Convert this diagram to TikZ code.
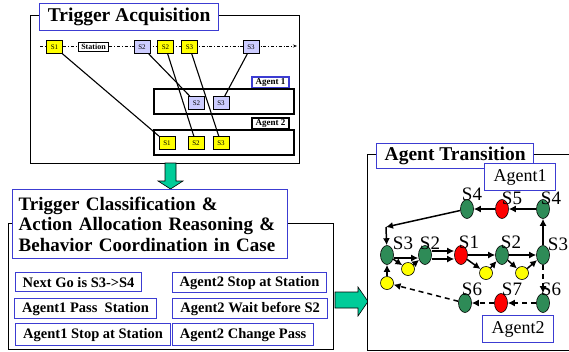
\documentclass[tikz,border=0pt]{standalone}
\usepackage{fontspec}
\setmainfont{Liberation Serif}
\usetikzlibrary{arrows.meta,shapes.geometric}

\definecolor{frameblue}{RGB}{60,60,210}
\definecolor{lav}{RGB}{204,204,255}
\definecolor{ylw}{RGB}{255,255,0}
\definecolor{stgreen}{RGB}{46,139,87}
\definecolor{arrgreen}{RGB}{0,204,153}

\tikzset{
  panel/.style={draw=black, line width=1.1pt, fill=white},
  bigtitle/.style={draw=frameblue, line width=1.4pt, fill=white, inner sep=0pt,
    font=\bfseries\fontsize{19.5}{20.5}\selectfont},
  casebox/.style={draw=frameblue, line width=1.2pt, fill=white, inner sep=0pt,
    font=\bfseries\fontsize{14.5}{15}\selectfont},
  agentrect/.style={draw=black, line width=1.8pt},
  agentlbl/.style={line width=1.2pt, fill=white, inner sep=0pt, minimum width=37pt,
    minimum height=11pt, font=\bfseries\fontsize{9}{9}\selectfont},
  ybox/.style={draw=black, line width=0.8pt, fill=ylw, inner sep=0pt,
    minimum width=16pt, minimum height=13pt, font=\fontsize{7}{7}\selectfont},
  lbox/.style={ybox, fill=lav},
  stationbox/.style={draw=black, line width=0.8pt, fill=white, inner sep=0pt,
    minimum width=30pt, minimum height=9pt, font=\bfseries\fontsize{8}{8}\selectfont},
  tieline/.style={draw=black, line width=1.1pt},
  blockarrow/.style={draw=black, line width=0.6pt, fill=arrgreen},
  gst/.style={ellipse, draw=black, line width=0.6pt, fill=stgreen, inner sep=0pt,
    minimum width=13pt, minimum height=19pt},
  rst/.style={gst, fill=red},
  yst/.style={circle, draw=black, line width=0.6pt, fill=ylw, inner sep=0pt,
    minimum size=13pt},
  stlbl/.style={inner sep=0pt, font=\fontsize{19}{19}\selectfont},
  agentname/.style={draw=frameblue, line width=1.2pt, fill=white, inner sep=0pt,
    font=\fontsize{18}{18}\selectfont},
  arr/.style={draw=black, line width=1.5pt, -{Latex[length=7pt,width=7pt]}},
  darr/.style={arr, dash pattern=on 5pt off 4pt},
}

\begin{document}
\begin{tikzpicture}[x=1pt, y=-1pt]
\useasboundingbox (0,0) rectangle (569,351);

% ---------------- Trigger acquisition panel ----------------
\node[panel, anchor=north west, minimum width=269pt, minimum height=148pt, inner sep=0pt]
  (acq) at (30,15) {};
\node[bigtitle, anchor=north west, minimum width=179pt, minimum height=27pt]
  (acqt) at (39,3) {Trigger Acquisition};

% time line of triggers
\coordinate (tl0) at (40,46);
\coordinate (tl1) at (297,46);
\draw[line width=0.7pt, dash dot, -{Stealth[length=4pt,width=3pt]}] (tl0) -- (tl1);

\node[ybox] (t1) at (54.5,47) {S1};
\node[stationbox] (tst) at (93.5,46.5) {Station};
\node[lbox] (t2) at (142,47) {S2};
\node[ybox] (t3) at (165.5,47) {S2};
\node[ybox] (t4) at (189.5,47) {S3};
\node[lbox] (t5) at (251,47) {S3};

% agent 1 lane
\node[agentlbl, draw=frameblue] (a1l) at (270.5,82.5) {Agent 1};
\node[agentrect, anchor=north west, minimum width=140pt, minimum height=25pt, inner sep=0pt]
  (a1) at (153,88) {};
\node[lbox] (a1s2) at (196.5,103) {S2};
\node[lbox] (a1s3) at (221,103) {S3};

% agent 2 lane
\node[agentlbl, draw=black] (a2l) at (270.5,123.5) {Agent 2};
\node[agentrect, anchor=north west, minimum width=140pt, minimum height=25pt, inner sep=0pt]
  (a2) at (153,129) {};
\node[ybox] (a2s1) at (167,143) {S1};
\node[ybox] (a2s2) at (196,143) {S2};
\node[ybox] (a2s3) at (221,143) {S3};

\draw[tieline] (t1) -- (a2s1);
\draw[tieline] (t2) -- (a1s2);
\draw[tieline] (t3) -- (a2s2);
\draw[tieline] (t4) -- (a2s3);
\draw[tieline] (t5) -- (a1s3);

% arrow down to the reasoning panel
\draw[blockarrow] (165,163) -- (176,163) -- (176,181) -- (183,181) -- (170.5,189)
  -- (158,181) -- (165,181) -- cycle;

% ---------------- Reasoning panel ----------------
\node[panel, anchor=north west, minimum width=325pt, minimum height=126pt, inner sep=0pt]
  (cls) at (8,223) {};
\node[bigtitle, anchor=north west, minimum height=69pt, text width=263pt,
  align=left, inner xsep=6pt, font=\bfseries\fontsize{19}{20.5}\selectfont] (clst) at (12,189)
  {Trigger Classification \&\\Action Allocation Reasoning \&\\Behavior Coordination in Case};

\node[casebox, anchor=north west, minimum width=126pt, minimum height=19pt] (c1) at (15,272) {Next Go is S3->S4};
\node[casebox, anchor=north west, minimum width=142pt, minimum height=20pt] (c2) at (14,298) {Agent1 Pass\ \ Station};
\node[casebox, anchor=north west, minimum width=155pt, minimum height=22pt] (c3) at (15,323) {Agent1 Stop at Station};
\node[casebox, anchor=north west, minimum width=154pt, minimum height=20pt] (c4) at (172,272) {Agent2 Stop at Station};
\node[casebox, anchor=north west, minimum width=155pt, minimum height=20pt] (c5) at (172,298) {Agent2 Wait before S2};
\node[casebox, anchor=north west, minimum width=141pt, minimum height=22pt] (c6) at (172,323) {Agent2 Change Pass};

% arrow right to the transition panel
\draw[blockarrow] (335,292) -- (358,292) -- (358,287) -- (368,301.5) -- (358,316)
  -- (358,308) -- (335,308) -- cycle;

% ---------------- Agent transition panel ----------------
\node[panel, anchor=north west, minimum width=215pt, minimum height=196pt, inner sep=0pt]
  (trn) at (367,154) {};
\node[bigtitle, anchor=north west, minimum width=157pt, minimum height=25pt]
  (trnt) at (376,143) {Agent Transition};
\node[agentname, anchor=north west, minimum width=71pt, minimum height=27pt]
  (ag1) at (484,163) {Agent1};
\node[agentname, anchor=north west, minimum width=71pt, minimum height=27pt]
  (ag2) at (482,315) {Agent2};

% states
\node[gst] (s4a) at (467,209) {};
\node[rst] (s5)  at (502,209) {};
\node[gst] (s4b) at (543,209) {};
\node[gst] (s3a) at (387,255) {};
\node[gst] (s2a) at (425,255) {};
\node[rst] (s1)  at (461,255) {};
\node[gst] (s2b) at (502,255) {};
\node[gst] (s3b) at (543,255) {};
\node[yst] (y1)  at (408,269) {};
\node[yst] (y2)  at (486,273) {};
\node[yst] (y3)  at (522,273) {};
\node[yst] (y4)  at (387,283) {};
\node[gst] (s6a) at (465,303) {};
\node[rst] (s7)  at (501,303) {};
\node[gst] (s6b) at (543,303) {};
\coordinate (turn) at (386,227);

% state labels
\node[stlbl] (l4a) at (472,194) {S4};
\node[stlbl] (l5)  at (512,198) {S5};
\node[stlbl] (l4b) at (551,198) {S4};
\node[stlbl] (l3a) at (403,243) {S3};
\node[stlbl] (l2a) at (430,243) {S2};
\node[stlbl] (l1)  at (469,242) {S1};
\node[stlbl] (l2b) at (511,242) {S2};
\node[stlbl] (l3b) at (558,244) {S3};
\node[stlbl] (l6a) at (472,289) {S6};
\node[stlbl] (l7)  at (512,289) {S7};
\node[stlbl] (l6b) at (551,289) {S6};

% transitions
\draw[arr] (s4b) -- (s5);
\draw[arr] (s5) -- (s4a);
\draw[arr] (s4a) -- (turn);
\draw[arr] (turn) -- (s3a);
\draw[arr] ([yshift=-3pt]s3a.east) -- ([yshift=-3pt]s2a.west);
\draw[arr] (s3a) -- (y1);
\draw[arr] (y1) -- (s2a);
\draw[arr] ([yshift=-4pt]s2a.east) -- ([yshift=-4pt]s1.west);
\draw[arr] ([yshift=4pt]s2a.east) -- ([yshift=4pt]s1.west);
\draw[arr] (s1) -- (s2b);
\draw[arr] (s1) -- (y2);
\draw[arr] (y2) -- (s2b);
\draw[arr] (s2b) -- (s3b);
\draw[arr] (s2b) -- (y3);
\draw[arr] (y3) -- (s3b);
\draw[arr] (s3b) -- (s4b);
\draw[darr] (s3b) -- (s6b);
\draw[darr] (s6b) -- (s7);
\draw[darr] (s7) -- (s6a);
\draw[darr] (s6a) -- (y4);
\draw[arr] (y4) -- (s3a);
\end{tikzpicture}
\end{document}
